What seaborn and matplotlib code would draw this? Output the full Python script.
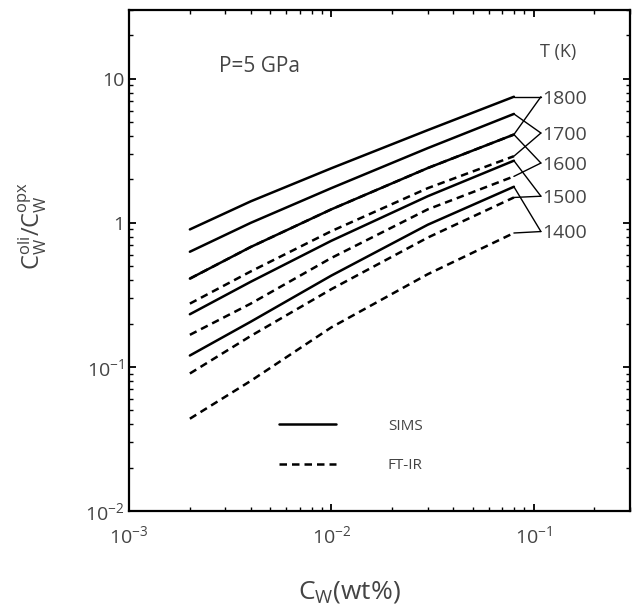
import numpy as np
import pandas as pd
import matplotlib
matplotlib.use("Agg")
import matplotlib.pyplot as plt
from matplotlib.lines import Line2D
from matplotlib.ticker import FuncFormatter, LogLocator
import seaborn as sns

# water content (wt%) where the curves were read
cw = [0.002, 0.004, 0.01, 0.03, 0.08]

temps = [1800, 1700, 1600, 1500, 1400]

# partition coefficient, SIMS calibration
sims = {
    1800: [0.90, 1.41, 2.39, 4.4, 7.5],
    1700: [0.63, 1.00, 1.74, 3.3, 5.7],
    1600: [0.41, 0.68, 1.24, 2.4, 4.1],
    1500: [0.232, 0.39, 0.75, 1.53, 2.7],
    1400: [0.12, 0.206, 0.43, 0.97, 1.78],
}

# partition coefficient, FT-IR calibration
ftir = {
    1800: [0.41, 0.68, 1.24, 2.4, 4.1],
    1700: [0.275, 0.46, 0.875, 1.74, 2.9],
    1600: [0.167, 0.275, 0.57, 1.24, 2.1],
    1500: [0.090, 0.164, 0.346, 0.79, 1.5],
    1400: [0.0437, 0.080, 0.188, 0.44, 0.85],
}

# where the bracket for each temperature label meets
label_y = [7.5, 4.2, 2.6, 1.53, 0.87]

sns.set_theme(style="ticks")
plt.rcParams["font.family"] = ["Open Sans", "DejaVu Sans"]
plt.rcParams["mathtext.fontset"] = "custom"
plt.rcParams["mathtext.rm"] = "Open Sans"
plt.rcParams["mathtext.it"] = "Open Sans"
plt.rcParams["mathtext.default"] = "regular"

grey = "#444444"

fig = plt.figure(figsize=(6.37, 6.11), dpi=100)
ax = fig.add_axes([129 / 637, 1 - 511 / 611, 501 / 637, 501 / 611])

dash = (0, (3, 2))
for t in temps:
    sns.lineplot(x=cw, y=sims[t], ax=ax, color="black", lw=1.8)
    sns.lineplot(x=cw, y=ftir[t], ax=ax, color="black", lw=1.8, linestyle=dash)

ax.set_xscale("log")
ax.set_yscale("log")
ax.set_xlim(1e-3, 0.3)
ax.set_ylim(1e-2, 30)

# brackets joining line ends to temperature labels
vx = cw[-1] * 1.36
for t, vy in zip(temps, label_y):
    ax.plot([cw[-1], vx], [sims[t][-1], vy], color="black", lw=1)
    ax.plot([cw[-1], vx], [ftir[t][-1], vy], color="black", lw=1)
    ax.text(vx * 1.02, vy * 0.97, str(t), fontsize=14, color=grey,
            ha="left", va="center")

ax.text(0.108, 15.3, "T (K)", fontsize=13, color=grey, ha="left", va="center")
ax.text(0.0028, 12.1, "P=5 GPa", fontsize=15, color=grey, ha="left", va="center")


def fmt(v, pos):
    e = int(round(np.log10(v)))
    if e == 0:
        return "1"
    if e == 1:
        return "10"
    return r"$10^{%d}$" % e


ax.xaxis.set_major_formatter(FuncFormatter(fmt))
ax.yaxis.set_major_formatter(FuncFormatter(fmt))
ax.xaxis.set_major_locator(LogLocator(base=10, numticks=10))
ax.yaxis.set_major_locator(LogLocator(base=10, numticks=10))
ax.tick_params(which="both", direction="in", top=True, right=True,
               colors="black", labelcolor=grey, labelsize=14)
ax.tick_params(which="major", length=5, width=1.3)
ax.tick_params(which="minor", length=3, width=1.0)
ax.tick_params(axis="x", pad=10)
for s in ax.spines.values():
    s.set_linewidth(1.6)
    s.set_color("black")

ax.set_xlabel(r"$C_W$(wt%)", fontsize=19, color=grey)
ax.set_ylabel(r"$C_W^{oli}/C_W^{opx}$", fontsize=17, color=grey)
ax.xaxis.set_label_coords(0.44, -0.135)
ax.yaxis.set_label_coords(-0.16, 0.57)

handles = [Line2D([], [], color="black", lw=1.8),
           Line2D([], [], color="black", lw=1.8, linestyle=dash)]
leg = ax.legend(handles, ["SIMS", "FT-IR"], loc="center left",
                bbox_to_anchor=(0.285, 0.13), frameon=False, fontsize=11,
                handlelength=3.7, handletextpad=3.4, labelspacing=1.6,
                borderpad=0)
for txt in leg.get_texts():
    txt.set_color(grey)

fig.savefig("out.png", dpi=100)
